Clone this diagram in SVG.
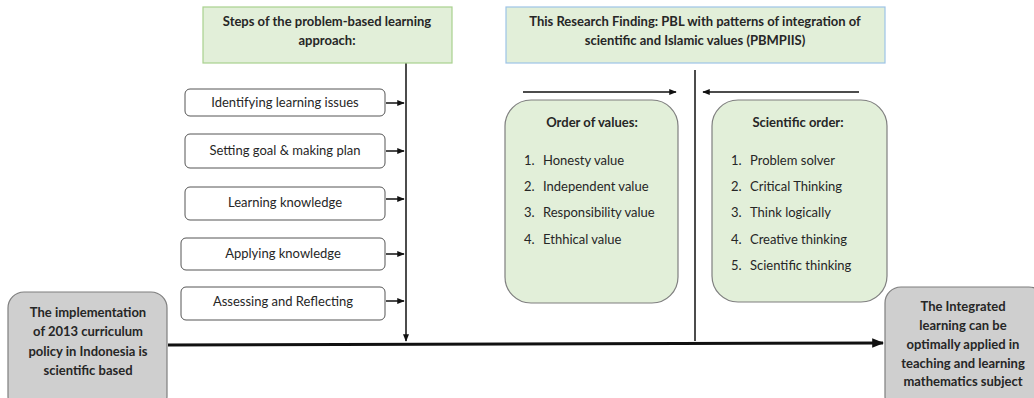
<svg xmlns="http://www.w3.org/2000/svg" width="1034" height="398" viewBox="0 0 1034 398">
<defs>
<style>
text{font-family:Lato,"Open Sans",sans-serif;font-size:13px;fill:#262626}
.b{font-weight:bold}
.c{text-anchor:middle}
.step{fill:#fff;stroke:#555;stroke-width:1}
.grn{fill:#e2efd9;stroke:#7f7f7f;stroke-width:1.2}
.gray{fill:#cfcfcf;stroke:#7f7f7f;stroke-width:1.2}
.ln{stroke:#111;stroke-width:1.5;fill:none}
</style>
<marker id="ah" viewBox="0 0 10 10" refX="9" refY="5" markerWidth="5" markerHeight="5" orient="auto"><path d="M0,1 L10,5 L0,9 z" fill="#111"/></marker>
<marker id="ah2" viewBox="0 0 10 10" refX="9" refY="5" markerWidth="4" markerHeight="4" orient="auto"><path d="M0,1 L10,5 L0,9 z" fill="#111"/></marker>
</defs>

<g id="connectors">
<line class="ln" x1="406" y1="63" x2="406" y2="341" marker-end="url(#ah)"/>
<line class="ln" x1="695" y1="70" x2="695" y2="341"/>
<line x1="168" y1="345" x2="883" y2="343" stroke="#111" stroke-width="3" marker-end="url(#ah2)"/>
<line class="ln" x1="386" y1="103" x2="404" y2="103" marker-end="url(#ah)"/>
<line class="ln" x1="386" y1="151" x2="404" y2="151" marker-end="url(#ah)"/>
<line class="ln" x1="386" y1="199" x2="404" y2="199" marker-end="url(#ah)"/>
<line class="ln" x1="386" y1="254" x2="404" y2="254" marker-end="url(#ah)"/>
<line class="ln" x1="386" y1="301" x2="404" y2="301" marker-end="url(#ah)"/>
<line class="ln" x1="523" y1="92" x2="676" y2="92" marker-end="url(#ah)"/>
<line class="ln" x1="859" y1="92" x2="703" y2="92" marker-end="url(#ah)"/>
</g>

<g id="title-steps">
<rect x="203" y="7" width="249" height="56" fill="#e2efd9" stroke="#a9d18e" stroke-width="1.2"/>
<text class="b c" x="327" y="26">Steps of the problem-based learning</text>
<text class="b c" x="327" y="45">approach:</text>
</g>

<g id="title-finding">
<rect x="506" y="7" width="379" height="56" fill="#e2efd9" stroke="#9dc3e6" stroke-width="1.2"/>
<text class="b c" x="695" y="26">This Research Finding: PBL with patterns of integration of</text>
<text class="b c" x="695" y="45">scientific and Islamic values (PBMPIIS)</text>
</g>

<g id="step1"><rect class="step" x="185" y="89" width="200" height="27" rx="5"/><text class="c" x="285" y="107">Identifying learning issues</text></g>
<g id="step2"><rect class="step" x="185" y="134" width="200" height="34" rx="5"/><text class="c" x="285" y="155">Setting goal &amp; making plan</text></g>
<g id="step3"><rect class="step" x="185" y="187" width="200" height="33" rx="5"/><text class="c" x="285" y="207">Learning knowledge</text></g>
<g id="step4"><rect class="step" x="181" y="238" width="204" height="32" rx="5"/><text class="c" x="283" y="258">Applying knowledge</text></g>
<g id="step5"><rect class="step" x="181" y="287" width="204" height="33" rx="5"/><text class="c" x="283" y="306">Assessing and Reflecting</text></g>

<g id="order-values">
<rect class="grn" x="505" y="100" width="173" height="203" rx="26"/>
<text class="b c" x="592" y="127">Order of values:</text>
<text x="524" y="165">1.</text><text x="543" y="165">Honesty value</text>
<text x="524" y="191">2.</text><text x="543" y="191">Independent value</text>
<text x="524" y="217">3.</text><text x="543" y="217">Responsibility value</text>
<text x="524" y="244">4.</text><text x="543" y="244">Ethhical value</text>
</g>

<g id="scientific-order">
<rect class="grn" x="712" y="100" width="175" height="202" rx="26"/>
<text class="b c" x="798" y="127">Scientific order:</text>
<text x="731" y="165">1.</text><text x="750" y="165">Problem solver</text>
<text x="731" y="191">2.</text><text x="750" y="191">Critical Thinking</text>
<text x="731" y="217">3.</text><text x="750" y="217">Think logically</text>
<text x="731" y="244">4.</text><text x="750" y="244">Creative thinking</text>
<text x="731" y="270">5.</text><text x="750" y="270">Scientific thinking</text>
</g>

<g id="implementation">
<rect class="gray" x="8" y="292" width="159" height="120" rx="16"/>
<text class="b c" x="88" y="317">The implementation</text>
<text class="b c" x="88" y="336">of 2013 curriculum</text>
<text class="b c" x="88" y="356">policy in Indonesia is</text>
<text class="b c" x="88" y="375">scientific based</text>
</g>

<g id="integrated">
<rect class="gray" x="885" y="287" width="160" height="125" rx="16"/>
<text class="b c" x="963" y="311">The Integrated</text>
<text class="b c" x="963" y="330">learning can be</text>
<text class="b c" x="963" y="349">optimally applied in</text>
<text class="b c" x="963" y="368">teaching and learning</text>
<text class="b c" x="963" y="386">mathematics subject</text>
</g>
</svg>
